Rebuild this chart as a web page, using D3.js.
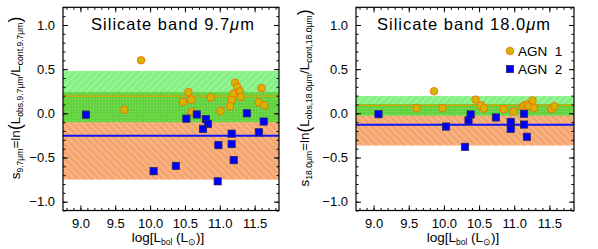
<!DOCTYPE html>
<html>
<head>
<meta charset="utf-8">
<script src="https://cdn.jsdelivr.net/npm/d3@7"></script>
<style>
body { margin: 0; background: #fff; }
svg text { font-family: "Liberation Sans", Arial, sans-serif; fill: #000; }
</style>
</head>
<body>
<svg id="chart"></svg>
<script>
// values
const xTicks = [9.0, 9.5, 10.0, 10.5, 11.0, 11.5]
const yTicks = [-1.0, -0.5, 0.0, 0.5, 1.0]
const xDomain = [8.75, 11.85]
const yDomain = [-1.1, 1.2]

// 9.7 micron panel
const lbolAgn1_97 = [9.87, 9.63, 10.55, 10.47, 10.59, 10.60, 10.87, 11.01, 11.22, 11.25, 11.29, 11.19, 11.17, 11.15, 11.30, 11.60, 11.56, 11.64]
const sAgn1_97    = [0.60, 0.04, 0.24, 0.13, 0.155, 0.015, 0.18, 0.025, 0.345, 0.30, 0.25, 0.22, 0.15, 0.08, 0.185, 0.285, 0.125, 0.09]
const lbolAgn2_97 = [9.08, 10.05, 10.37, 10.52, 10.67, 10.80, 10.83, 10.76, 11.17, 11.17, 10.98, 11.20, 10.97, 11.39, 11.56, 11.63]
const sAgn2_97    = [-0.015, -0.655, -0.595, -0.06, -0.013, -0.066, -0.12, -0.176, -0.23, -0.348, -0.36, -0.53, -0.77, 0.0, -0.215, -0.093]
const mean_97 = [0.195, -0.255]            // AGN 1, AGN 2
const band_97 = [[-0.10, 0.48], [-0.75, 0.24]]

// 18.0 micron panel
const lbolAgn1_18 = [9.86, 9.61, 9.98, 10.45, 10.53, 10.57, 10.85, 10.99, 11.12, 11.14, 11.18, 11.21, 11.26, 11.28, 11.53, 11.57]
const sAgn1_18    = [0.25, 0.06, 0.06, 0.155, 0.09, 0.055, 0.048, 0.02, 0.07, 0.09, 0.10, 0.08, 0.145, 0.06, 0.05, 0.08]
const lbolAgn2_18 = [9.07, 10.03, 10.35, 10.38, 10.30, 10.74, 10.95, 10.95, 11.14, 11.14, 11.18]
const sAgn2_18    = [-0.01, -0.15, -0.08, -0.013, -0.38, -0.047, -0.097, -0.175, -0.005, -0.127, -0.265]
const mean_18 = [0.09, -0.13]
const band_18 = [[-0.025, 0.195], [-0.365, 0.105]]

const legendLabels = ['AGN  1', 'AGN  2']

const w = 598
const h = 249
const plotTop = 7.3
const plotBottom = 210.5

const svg = d3.select('#chart').attr('width', w).attr('height', h)

let defs = svg.append('defs')

let makeHatch = (id, base, line, angle) => {
    let p = defs.append('pattern')
        .attr('id', id)
        .attr('patternUnits', 'userSpaceOnUse')
        .attr('width', 5)
        .attr('height', 5)
        .attr('patternTransform', 'rotate(' + angle + ')')
    p.append('rect').attr('width', 5).attr('height', 5).attr('fill', base)
    p.append('line').attr('x1', 1).attr('x2', 1).attr('y1', 0).attr('y2', 5)
        .attr('stroke', line).attr('stroke-width', 1.2)
}
makeHatch('hatchOrange', '#f6a46d', '#f9c39c', -45)
makeHatch('hatchGreen', '#84f084', '#a8f7a4', 45)

// stippled dark green where the two bands overlap
let dots = defs.append('pattern')
    .attr('id', 'dotsGreen')
    .attr('patternUnits', 'userSpaceOnUse')
    .attr('width', 3).attr('height', 3)
dots.append('rect').attr('width', 3).attr('height', 3).attr('fill', '#62d23e')
dots.append('rect').attr('width', 1).attr('height', 1).attr('fill', '#8ee06a')

let drawPanel = (p) => {
    let xScale = d3.scaleLinear().domain(xDomain).range([p.left, p.right])
    let yScale = d3.scaleLinear().domain(yDomain).range([plotBottom, plotTop])
    let g = svg.append('g')

    let bandRect = (lo, hi, fill) => {
        g.append('rect')
            .attr('x', p.left).attr('width', p.right - p.left)
            .attr('y', yScale(hi))
            .attr('height', yScale(lo) - yScale(hi))
            .attr('fill', fill)
    }
    // bands: AGN 2 (orange), AGN 1 (green), overlap
    bandRect(p.band[1][0], p.band[1][1], 'url(#hatchOrange)')
    bandRect(p.band[0][0], p.band[0][1], 'url(#hatchGreen)')
    bandRect(Math.max(p.band[0][0], p.band[1][0]), Math.min(p.band[0][1], p.band[1][1]), 'url(#dotsGreen)')

    // mean lines
    g.append('line')
        .attr('x1', p.left).attr('x2', p.right)
        .attr('y1', yScale(p.mean[0])).attr('y2', yScale(p.mean[0]))
        .attr('stroke', '#dca400').attr('stroke-width', 1.4)
    g.append('line')
        .attr('x1', p.left).attr('x2', p.right)
        .attr('y1', yScale(p.mean[1])).attr('y2', yScale(p.mean[1]))
        .attr('stroke', '#0a14ff').attr('stroke-width', 2)

    // AGN 1 circles
    g.selectAll('circle.agn1')
        .data(d3.zip(p.x1, p.y1))
        .enter()
        .append('circle')
        .attr('class', 'agn1')
        .attr('cx', d => xScale(d[0]))
        .attr('cy', d => yScale(d[1]))
        .attr('r', 3.8)
        .attr('fill', '#d2b600')
        .attr('stroke', '#ff6010')
        .attr('stroke-width', 0.8)

    // AGN 2 squares
    g.selectAll('rect.agn2')
        .data(d3.zip(p.x2, p.y2))
        .enter()
        .append('rect')
        .attr('class', 'agn2')
        .attr('x', d => xScale(d[0]) - 3.6)
        .attr('y', d => yScale(d[1]) - 3.6)
        .attr('width', 7.2)
        .attr('height', 7.2)
        .attr('fill', '#0000ff')
        .attr('stroke', '#2a2a55')
        .attr('stroke-width', 0.8)

    // frame
    g.append('rect')
        .attr('x', p.left).attr('y', plotTop)
        .attr('width', p.right - p.left).attr('height', plotBottom - plotTop)
        .attr('fill', 'none').attr('stroke', '#000').attr('stroke-width', 1.2)

    // ticks inward on all four sides
    let xMinor = d3.range(88, 119).map(v => v / 10)
    let yMinor = d3.range(-11, 13).map(v => v / 10)
    let addAxis = (axis, tr) => {
        let a = g.append('g').attr('transform', tr).call(axis)
        a.select('.domain').remove()
        a.selectAll('line').attr('stroke', '#000')
        return a
    }
    addAxis(d3.axisBottom(xScale).tickValues(xMinor).tickSize(-2.5).tickFormat(''), 'translate(0,' + plotBottom + ')')
    addAxis(d3.axisTop(xScale).tickValues(xMinor).tickSize(-2.5).tickFormat(''), 'translate(0,' + plotTop + ')')
    addAxis(d3.axisLeft(yScale).tickValues(yMinor).tickSize(-2.5).tickFormat(''), 'translate(' + p.left + ',0)')
    addAxis(d3.axisRight(yScale).tickValues(yMinor).tickSize(-2.5).tickFormat(''), 'translate(' + p.right + ',0)')
    addAxis(d3.axisTop(xScale).tickValues(xTicks).tickSize(-5).tickFormat(''), 'translate(0,' + plotTop + ')')
    addAxis(d3.axisRight(yScale).tickValues(yTicks).tickSize(-5).tickFormat(''), 'translate(' + p.right + ',0)')

    let xAxis = addAxis(d3.axisBottom(xScale).tickValues(xTicks).tickSize(-5).tickFormat(d3.format('.1f')), 'translate(0,' + plotBottom + ')')
    xAxis.selectAll('text').attr('font-size', 13).attr('font-family', '"Liberation Sans", Arial, sans-serif')
        .attr('dy', '0.71em').attr('y', 8.5)
    let yAxis = addAxis(d3.axisLeft(yScale).tickValues(yTicks).tickSize(-5)
        .tickFormat(d => d3.format('.1f')(d).replace('-', '\u2212')), 'translate(' + p.left + ',0)')
    yAxis.selectAll('text').attr('font-size', 13).attr('font-family', '"Liberation Sans", Arial, sans-serif')
        .attr('x', -8)

    // title
    let t = g.append('text')
        .attr('x', p.titleX).attr('y', 30)
        .attr('text-anchor', 'middle')
        .attr('font-size', 16.5)
        .attr('letter-spacing', 1)
    t.append('tspan').text('Silicate band ' + p.band_label)
    t.append('tspan').attr('font-style', 'italic').text('\u03bc')
    t.append('tspan').text('m')

    // y label
    let yl = g.append('text')
        .attr('transform', 'translate(' + p.yLabelX + ',' + 98 + ') rotate(-90)')
        .attr('text-anchor', 'middle')
        .attr('font-size', 13.5)
    yl.append('tspan').text('s')
    yl.append('tspan').attr('font-size', 8.6).attr('dy', 3).text(p.band_label + '\u03bcm')
    yl.append('tspan').attr('dy', -3).text('=ln')
    yl.append('tspan').attr('font-size', 17.5).attr('dy', 1).text('(')
    yl.append('tspan').attr('dy', -1).text('L')
    yl.append('tspan').attr('font-size', 8.6).attr('dy', 3).text('obs,' + p.band_label + '\u03bcm')
    yl.append('tspan').attr('dy', -3).text('/L')
    yl.append('tspan').attr('font-size', 8.6).attr('dy', 3).text('cont,' + p.band_label + '\u03bcm')
    yl.append('tspan').attr('font-size', 17.5).attr('dy', -2).text(')')

    // x label
    let xl = g.append('text')
        .attr('x', p.xLabelX).attr('y', 242)
        .attr('text-anchor', 'middle')
        .attr('font-size', 13.5)
    xl.append('tspan').text('log[L')
    xl.append('tspan').attr('font-size', 8.5).attr('dy', 3).text('bol')
    xl.append('tspan').attr('dy', -3).text(' (L')
    xl.append('tspan').attr('font-size', 8.5).attr('dy', 3).text('\u2299')
    xl.append('tspan').attr('dy', -3).text(')]')

    return { xScale, yScale, g }
}

drawPanel({
    left: 63, right: 279, titleX: 173, yLabelX: 20, xLabelX: 168,
    band_label: '9.7',
    x1: lbolAgn1_97, y1: sAgn1_97, x2: lbolAgn2_97, y2: sAgn2_97,
    mean: mean_97, band: band_97
})

let right = drawPanel({
    left: 356, right: 574, titleX: 464, yLabelX: 309, xLabelX: 463,
    band_label: '18.0',
    x1: lbolAgn1_18, y1: sAgn1_18, x2: lbolAgn2_18, y2: sAgn2_18,
    mean: mean_18, band: band_18
})

// legend (right panel)
let legend = right.g.append('g')
legend.append('circle').attr('cx', 510).attr('cy', 51).attr('r', 3.8)
    .attr('fill', '#d2b600').attr('stroke', '#ff6010').attr('stroke-width', 0.8)
legend.append('rect').attr('x', 506.4).attr('y', 65.4).attr('width', 7.2).attr('height', 7.2)
    .attr('fill', '#0000ff').attr('stroke', '#2a2a55').attr('stroke-width', 0.8)
legend.selectAll('text.leg')
    .data(legendLabels)
    .enter()
    .append('text')
    .attr('class', 'leg')
    .attr('x', 518)
    .attr('y', (d, i) => 56 + i * 18)
    .attr('font-size', 13.5)
    .style('white-space', 'pre')
    .text(d => d)
</script>
</body>
</html>
